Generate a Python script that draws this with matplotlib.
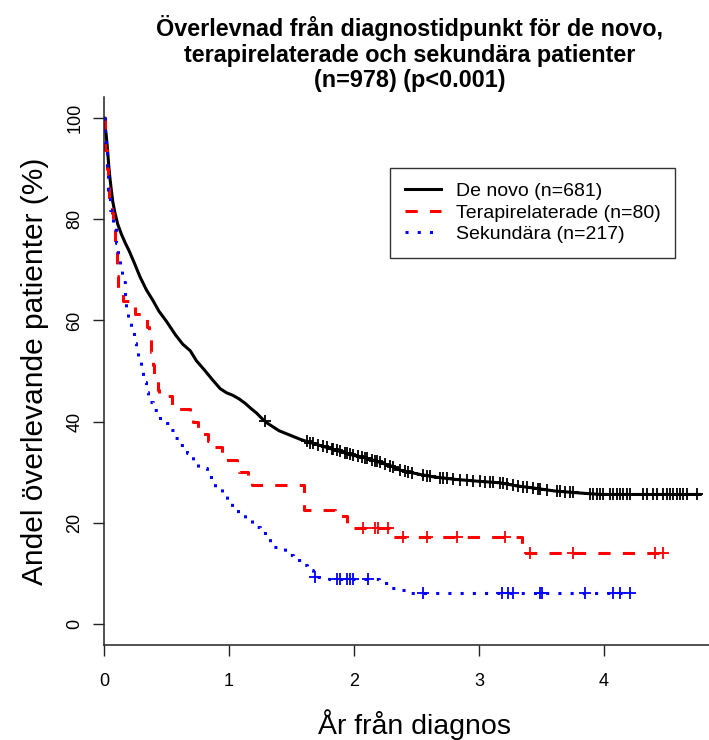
import numpy as np
import matplotlib
matplotlib.use("Agg")
import matplotlib.pyplot as plt

plt.rcParams['font.family'] = ['Liberation Sans', 'DejaVu Sans']

# Survival estimates: (time in years, survival in %)
denovo_t = [0, 0.008, 0.016, 0.024, 0.032, 0.04, 0.048, 0.06, 0.07, 0.088, 0.11,
            0.14, 0.17, 0.2, 0.24, 0.29, 0.34, 0.39, 0.44, 0.5, 0.57, 0.63, 0.69,
            0.74, 0.8, 0.87, 0.93, 0.98, 1.03, 1.08, 1.13, 1.18, 1.22, 1.26, 1.3,
            1.35, 1.4, 1.46, 1.52, 1.57, 1.63, 1.7, 1.78, 1.86, 1.93, 2.0, 2.1,
            2.2, 2.3, 2.37, 2.5, 2.63, 2.8, 3.0, 3.17, 3.3, 3.43, 3.6, 3.8, 3.97,
            4.77]
denovo_s = [100, 98.5, 97, 95, 92.5, 90, 88, 85.5, 83.5, 81.2, 79,
            77, 75.3, 73.8, 71.5, 68.5, 66, 64, 61.8, 59.8, 57.2, 55.3, 54.0,
            52, 50.3, 48.2, 46.5, 45.7, 45.2, 44.5, 43.6, 42.5, 41.7, 40.7, 39.8,
            39.0, 38.2, 37.6, 37.0, 36.5, 36.0, 35.5, 34.9, 34.3, 33.8, 33.3, 32.8,
            32.0, 31.2, 30.4, 29.7, 29.1, 28.6, 28.2, 27.9, 27.3, 26.9, 26.3, 25.9, 25.6,
            25.6]
denovo_cens = [1.29, 1.62, 1.65, 1.675, 1.715, 1.755, 1.781, 1.821, 1.835, 1.861, 1.888,
               1.928, 1.941, 1.968, 1.995, 2.035, 2.061, 2.088, 2.101, 2.141, 2.168,
               2.181, 2.208, 2.248, 2.288, 2.315, 2.368, 2.408, 2.435, 2.461, 2.555,
               2.581, 2.608, 2.688, 2.715, 2.741, 2.795, 2.848, 2.901, 2.955, 3.008,
               3.048, 3.088, 3.115, 3.168, 3.195, 3.221, 3.275, 3.315, 3.355, 3.381,
               3.435, 3.475, 3.488, 3.541, 3.621, 3.648, 3.688, 3.728, 3.755, 3.888,
               3.915, 3.941, 3.968, 3.995, 4.048, 4.075, 4.101, 4.128, 4.155, 4.181,
               4.208, 4.315, 4.341, 4.395, 4.421, 4.475, 4.501, 4.528, 4.555, 4.581,
               4.608, 4.635, 4.661, 4.741]

terapi_t = [0, 0.005, 0.01, 0.02, 0.03, 0.04, 0.065, 0.07, 0.085, 0.09, 0.1, 0.105,
            0.11, 0.15, 0.25, 0.34, 0.36, 0.375, 0.39, 0.4, 0.43, 0.44, 0.54, 0.69,
            0.71, 0.75, 0.77, 0.83, 0.86, 0.94, 0.96, 1.06, 1.08, 1.15, 1.18, 1.60,
            1.85, 1.94, 2.29, 3.34, 4.50]
terapi_s = [100, 97.5, 93.75, 90, 86.25, 83.75, 81.25, 78.75, 76.25, 73.75, 71.25, 68.75,
            66.25, 63.75, 61.25, 58.75, 56.25, 53.75, 51.25, 48.75, 46.25, 45.0, 42.5, 41.25,
            40.0, 38.75, 37.5, 36.25, 35.0, 33.75, 32.5, 31.25, 30.0, 28.75, 27.5, 22.5,
            21.25, 19.0, 17.2, 14.0, 14.0]
terapi_cens = [2.07, 2.17, 2.19, 2.27, 2.39, 2.58, 2.82, 3.21, 3.41, 3.75, 4.41, 4.47]

sekund_t = [0, 0.008, 0.016, 0.024, 0.032, 0.048, 0.07, 0.096, 0.112, 0.13, 0.144,
            0.168, 0.176, 0.192, 0.216, 0.24, 0.256, 0.272, 0.296, 0.312, 0.336, 0.352,
            0.392, 0.432, 0.488, 0.528, 0.568, 0.608, 0.664, 0.712, 0.752, 0.824, 0.888,
            0.944, 0.984, 1.024, 1.072, 1.128, 1.184, 1.248, 1.328, 1.352, 1.448, 1.512,
            1.592, 1.624, 1.672, 1.80, 2.20, 2.28, 2.35, 2.43, 4.21]
sekund_s = [100, 96.5, 93.7, 89.8, 85.8, 81.8, 78.5, 75.3, 72.9, 70.2, 67.6,
            64.6, 62.1, 60.1, 57.7, 55.5, 53.8, 51.8, 49.8, 47.8, 45.8, 43.9,
            42.3, 40.7, 39.7, 38.3, 36.8, 35.4, 33.8, 32.0, 30.8, 29.1, 27.1,
            25.9, 24.1, 23.1, 21.9, 20.6, 19.2, 18.0, 16.2, 15.2, 13.6, 12.6,
            11.7, 10.7, 9.3, 8.8, 8.2, 7.2, 6.7, 6.1, 6.1]
sekund_cens = [1.69, 1.86, 1.89, 1.94, 1.97, 1.99, 2.11, 2.55, 3.18, 3.23, 3.27,
               3.49, 3.50, 3.85, 4.07, 4.13, 4.21]

labels = ["De novo (n=681)", "Terapirelaterade (n=80)", "Sekundära (n=217)"]
title = ("Överlevnad från diagnostidpunkt för de novo,\n"
         "terapirelaterade och sekundära patienter\n"
         "(n=978) (p<0.001)")
xticks = [0, 1, 2, 3, 4]
yticks = [0, 20, 40, 60, 80, 100]

W, H = 709, 740
fig = plt.figure(figsize=(W / 100, H / 100), dpi=100)
ax = fig.add_axes([104 / W, (H - 645) / H, 622 / W, 548 / H])


def step_value(t, s, x):
    t = np.asarray(t)
    s = np.asarray(s)
    idx = np.searchsorted(t, x, side='right') - 1
    return s[idx]


# the large group has tiny steps, so its curve is traced through the estimates
series = [
    (denovo_t, denovo_s, denovo_cens, 'black', '-', 'default'),
    (terapi_t, terapi_s, terapi_cens, 'red', (0, (4, 4)), 'steps-post'),
    (sekund_t, sekund_s, sekund_cens, 'blue', (0, (1, 3)), 'steps-post'),
]

handles = []
for (t, s, c, col, ls, ds), lab in zip(series, labels):
    ln, = ax.plot(t, s, drawstyle=ds, color=col, lw=2.2,
                  linestyle=ls, dash_capstyle='butt', label=lab)
    handles.append(ln)
    if ds == 'default':
        cy = np.interp(c, t, s)
    else:
        cy = step_value(t, s, c)
    ax.plot(c, cy, linestyle='none', marker='+',
            markersize=9, markeredgewidth=1.3, color=col)

ax.set_xlim(0, 4.976)
ax.set_ylim(-4.15, 104.15)
ax.set_xticks(xticks)
ax.set_yticks(yticks)
ax.spines['top'].set_visible(False)
ax.spines['right'].set_visible(False)
for sp in ('left', 'bottom'):
    ax.spines[sp].set_linewidth(1.1)
    ax.spines[sp].set_color('#222222')
ax.tick_params(axis='both', direction='out', length=8, width=1.0,
               color='#222222', labelsize=13)
ax.tick_params(axis='x', pad=12)
ax.tick_params(axis='y', pad=7)
for lbl in ax.get_yticklabels():
    lbl.set_rotation(90)
    lbl.set_va('center')

ax.set_xlabel("År från diagnos", fontsize=20.5, labelpad=14)
ax.set_ylabel("Andel överlevande patienter (%)", fontsize=21.5, labelpad=12)

fig.text(410 / W, 1 - 15 / H, title, ha='center', va='top',
         fontsize=16.8, fontweight='bold', linespacing=1.15)

leg = ax.legend(handles=handles, loc='upper left',
                bbox_to_anchor=(390 / W, 1 - 168 / H),
                bbox_transform=fig.transFigure, borderaxespad=0,
                fontsize=14, frameon=True, fancybox=False,
                edgecolor='black', handlelength=1.85, handletextpad=0.8,
                labelspacing=0.2, borderpad=0.75)
leg.get_frame().set_linewidth(1.0)

fig.savefig("out.png", dpi=100)
